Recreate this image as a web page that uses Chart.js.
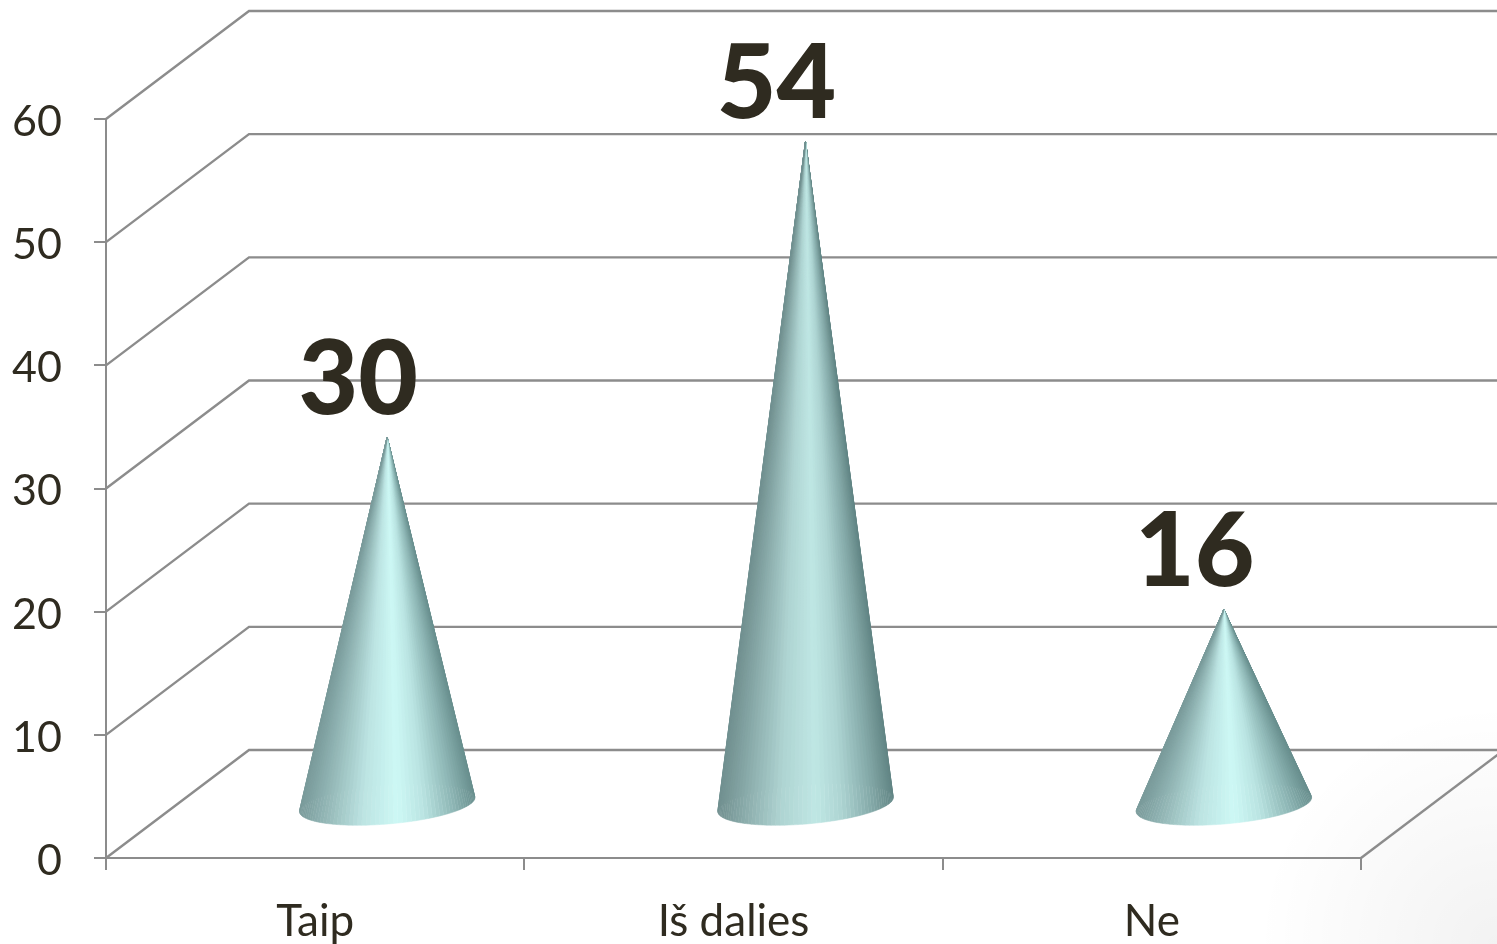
<!DOCTYPE html>
<html>
<head>
<meta charset="utf-8">
<style>
    html, body { margin: 0; padding: 0; background: #fff; overflow: hidden; }
    #wrap { width: 1497px; height: 944px; }
</style>
<script src="https://cdn.jsdelivr.net/npm/chart.js@4"></script>
</head>
<body>
<div id="wrap"><canvas id="coneChart"></canvas></div>
<script>
const categories = ['Taip', 'Iš dalies', 'Ne'];
const values = [30, 54, 16];

const TEXT_COLOR = '#2f2b20';
const LINE_COLOR = '#8c8c8c';

// 3D look: how far the back wall is shifted from the front plane
const DEPTH_X = 143;
const DEPTH_Y = 108;

// left to right shading of a cone, position + rgb
const shadeStops = [
    [0.00, [122, 155, 155]],
    [0.15, [150, 186, 185]],
    [0.35, [188, 228, 226]],
    [0.55, [205, 248, 245]],
    [0.70, [186, 228, 226]],
    [0.88, [140, 180, 179]],
    [1.00, [105, 143, 142]]
];
const coneBrightness = [1, 0.93, 1];

function shadeAt(u, k) {
    for (let i = 1; i < shadeStops.length; i++) {
        if (u <= shadeStops[i][0]) {
            const a = shadeStops[i - 1], b = shadeStops[i];
            const f = (u - a[0]) / (b[0] - a[0]);
            const rgb = a[1].map((c, n) => Math.round((c + (b[1][n] - c) * f) * k));
            return `rgb(${rgb[0]},${rgb[1]},${rgb[2]})`;
        }
    }
    return 'rgb(105,143,142)';
}

function drawCone(ctx, bar, k) {
    const cx = bar.x + DEPTH_X / 2 + 0.5;
    const cy = bar.base - 52.5;
    const tipY = bar.y - 51.5;
    const a = 88, b = 19.5, phi = -4.8 * Math.PI / 180;
    const point = t => {
        const ex = a * Math.cos(t), ey = b * Math.sin(t);
        return [cx + ex * Math.cos(phi) - ey * Math.sin(phi), cy + ex * Math.sin(phi) + ey * Math.cos(phi)];
    };
    const steps = 120;
    // back half first, front half paints over it
    for (let i = 0; i < steps; i++) {
        const t0 = Math.PI + i * 2 * Math.PI / steps;
        const t1 = t0 + 2 * Math.PI / steps;
        const p0 = point(t0), p1 = point(t1);
        const col = shadeAt((Math.cos((t0 + t1) / 2) + 1) / 2, k);
        ctx.beginPath();
        ctx.moveTo(cx, tipY);
        ctx.lineTo(p0[0], p0[1]);
        ctx.lineTo(p1[0], p1[1]);
        ctx.closePath();
        ctx.fillStyle = col;
        ctx.strokeStyle = col;
        ctx.lineWidth = 0.5;
        ctx.fill();
        ctx.stroke();
    }
}

const cornerShade = {
    id: 'cornerShade',
    beforeDraw(chart) {
        const ctx = chart.ctx;
        const g = ctx.createRadialGradient(1497, 944, 0, 1497, 944, 240);
        g.addColorStop(0, 'rgba(0,0,0,0.05)');
        g.addColorStop(1, 'rgba(0,0,0,0)');
        ctx.save();
        ctx.fillStyle = '#fff';
        ctx.fillRect(0, 0, 1497, 944);
        ctx.fillStyle = g;
        ctx.fillRect(1200, 650, 297, 294);
        ctx.restore();
    }
};

const walls = {
    id: 'walls',
    beforeDatasetsDraw(chart) {
        const { ctx, scales: { x, y } } = chart;
        ctx.save();
        ctx.strokeStyle = LINE_COLOR;
        ctx.lineWidth = 2.4;
        y.ticks.forEach(tick => {
            const py = y.getPixelForValue(tick.value);
            ctx.beginPath();
            ctx.moveTo(x.left, py);
            ctx.lineTo(x.left + DEPTH_X, py - DEPTH_Y);
            ctx.lineTo(chart.width, py - DEPTH_Y);
            ctx.stroke();
        });
        // right edge of the floor
        const floor = y.getPixelForValue(0);
        ctx.beginPath();
        ctx.moveTo(x.right, floor);
        ctx.lineTo(x.right + DEPTH_X, floor - DEPTH_Y);
        ctx.stroke();
        ctx.restore();
    }
};

const cones = {
    id: 'cones',
    afterDatasetsDraw(chart) {
        const ctx = chart.ctx;
        const bars = chart.getDatasetMeta(0).data;
        ctx.save();
        bars.forEach((bar, i) => drawCone(ctx, bar, coneBrightness[i]));
        ctx.fillStyle = TEXT_COLOR;
        ctx.font = '900 103px Lato';
        ctx.textAlign = 'center';
        ctx.textBaseline = 'alphabetic';
        bars.forEach((bar, i) => {
            ctx.fillText(String(values[i]), bar.x + 43, bar.y - 74.5);
        });
        ctx.restore();
    }
};

new Chart(document.getElementById('coneChart'), {
    type: 'bar',
    data: {
        labels: categories,
        datasets: [{
            data: values,
            backgroundColor: 'rgba(0,0,0,0)',
            borderWidth: 0
        }]
    },
    options: {
        responsive: true,
        maintainAspectRatio: false,
        animation: false,
        layout: { padding: { top: 119, right: 136, left: 0, bottom: 0 } },
        plugins: {
            legend: { display: false },
            tooltip: { enabled: false },
            title: { display: false }
        },
        scales: {
            x: {
                afterFit: scale => { scale.height = 86; },
                ticks: { color: TEXT_COLOR, font: { family: 'Lato', size: 44 }, padding: 25, maxRotation: 0 },
                grid: { color: LINE_COLOR, lineWidth: 2, tickLength: 12, drawOnChartArea: false },
                border: { color: LINE_COLOR, width: 2 }
            },
            y: {
                min: 0,
                max: 60,
                afterFit: scale => { scale.width = 106; },
                ticks: { stepSize: 10, color: TEXT_COLOR, font: { family: 'Lato', size: 43 }, padding: 32, labelOffset: 3 },
                grid: { color: LINE_COLOR, lineWidth: 2, tickLength: 12, drawOnChartArea: false },
                border: { color: LINE_COLOR, width: 2 }
            }
        }
    },
    plugins: [cornerShade, walls, cones]
});
</script>
</body>
</html>
